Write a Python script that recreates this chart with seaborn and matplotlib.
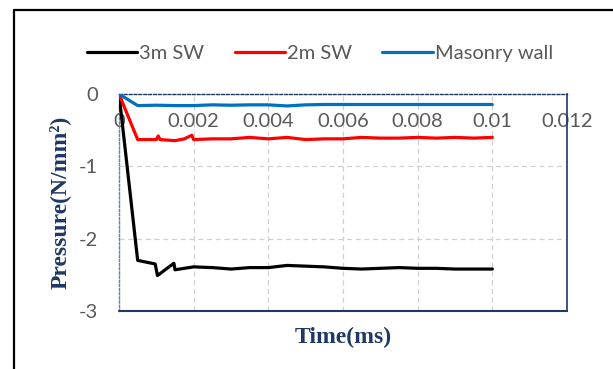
import numpy as np
import pandas as pd
import matplotlib
matplotlib.use("Agg")
import matplotlib.pyplot as plt
import matplotlib.transforms as mtransforms
from matplotlib.lines import Line2D
import seaborn as sns

# ---- data ----
t_3m = [0, 0.0005, 0.00097, 0.00103, 0.00147, 0.0015, 0.002, 0.0025, 0.003, 0.0035,
        0.004, 0.0045, 0.005, 0.0055, 0.006, 0.0065, 0.007, 0.0075, 0.008, 0.0085,
        0.009, 0.0095, 0.01]
p_3m = [0, -2.30, -2.35, -2.51, -2.34, -2.43, -2.39, -2.40, -2.42, -2.40,
        -2.40, -2.37, -2.38, -2.39, -2.41, -2.42, -2.41, -2.40, -2.41, -2.41,
        -2.42, -2.42, -2.42]

t_2m = [0, 0.0005, 0.001, 0.00105, 0.0011, 0.0015, 0.00175, 0.00195, 0.002, 0.0025,
        0.003, 0.0035, 0.004, 0.0045, 0.005, 0.0055, 0.006, 0.0065, 0.007, 0.0075,
        0.008, 0.0085, 0.009, 0.0095, 0.01]
p_2m = [0, -0.63, -0.63, -0.58, -0.63, -0.645, -0.62, -0.57, -0.63, -0.62,
        -0.62, -0.60, -0.62, -0.60, -0.63, -0.62, -0.62, -0.60, -0.61, -0.61,
        -0.60, -0.61, -0.60, -0.61, -0.60]

t_mw = [0, 0.0005, 0.001, 0.0015, 0.002, 0.0025, 0.003, 0.0035, 0.004, 0.0045,
        0.005, 0.0055, 0.006, 0.0065, 0.007, 0.0075, 0.008, 0.0085, 0.009, 0.0095, 0.01]
p_mw = [0, -0.16, -0.155, -0.16, -0.16, -0.15, -0.155, -0.15, -0.15, -0.165,
        -0.15, -0.145, -0.145, -0.145, -0.145, -0.145, -0.145, -0.145, -0.145, -0.145, -0.145]

series_names = ["3m SW", "2m SW", "Masonry wall"]
series_colors = ["#000000", "#FF0000", "#0070C0"]
x_ticks = [0, 0.002, 0.004, 0.006, 0.008, 0.01, 0.012]
x_tick_labels = ["0", "0.002", "0.004", "0.006", "0.008", "0.01", "0.012"]
y_ticks = [0, -1, -2, -3]
y_tick_labels = ["0", "-1", "-2", "-3"]

df = pd.concat([
    pd.DataFrame({"t": t_3m, "p": p_3m, "s": series_names[0]}),
    pd.DataFrame({"t": t_2m, "p": p_2m, "s": series_names[1]}),
    pd.DataFrame({"t": t_mw, "p": p_mw, "s": series_names[2]}),
], ignore_index=True)

sns.set_style("white")
plt.rcParams["font.family"] = ["Lato", "DejaVu Sans"]

fig = plt.figure(figsize=(6.13, 3.69), dpi=100)
ax = fig.add_axes([119/613, 1-311/369, (567-119)/613, (311-94)/369])

navy = "#1F3864"
grey_txt = "#595959"

for name, col in zip(series_names, series_colors):
    sub = df[df["s"] == name]
    sns.lineplot(data=sub, x="t", y="p", ax=ax, color=col, lw=2.3,
                 estimator=None, sort=False, label=name, legend=False, zorder=3)

ax.set_xlim(0, 0.012)
ax.set_ylim(-3, 0)
ax.set_xticks(x_ticks)
ax.set_xticklabels(x_tick_labels)
ax.set_yticks(y_ticks)
ax.set_yticklabels(y_tick_labels)

ax.grid(True, color="#D0D0D0", linestyle=(0, (4, 3)), lw=0.9)
ax.set_axisbelow(True)

# x axis crosses at y = 0
ax.spines["bottom"].set_position(("data", 0))
ax.spines["bottom"].set_linestyle((0, (2, 1.5)))
ax.spines["bottom"].set_color(navy)
ax.spines["bottom"].set_linewidth(1.0)
ax.spines["top"].set_visible(False)
ax.spines["left"].set_linestyle((0, (1.5, 1.5)))
ax.spines["left"].set_color("#6A7FA8")
ax.spines["left"].set_linewidth(1.0)
ax.spines["right"].set_color(navy)
ax.spines["right"].set_linewidth(1.2)
ax.axhline(-3, color=navy, lw=1.5, clip_on=False, zorder=4)

ax.tick_params(axis="x", length=0, pad=14, labelsize=14.5, labelcolor=grey_txt)
ax.tick_params(axis="y", length=0, pad=15, labelsize=14.5, labelcolor=grey_txt)

ax.set_xlabel("Time(ms)", family="Liberation Serif", fontweight="bold",
              fontsize=17, color=navy)
ax.set_ylabel("Pressure(N/mm²)", family="Liberation Serif", fontweight="bold",
              fontsize=17, color=navy)
ax.xaxis.set_label_coords(0.5, -0.072, transform=ax.transAxes)
ax.xaxis.label.set_va("top")
blend = mtransforms.blended_transform_factory(fig.transFigure, ax.transAxes)
ax.yaxis.set_label_coords(60/613, 0.5, transform=blend)
ax.yaxis.label.set_va("center")

handles = [Line2D([], [], color=c, lw=2.3) for c in series_colors]
fig.legend(handles, series_names, loc="center", ncol=3,
           bbox_to_anchor=(320/613, 1-53/369), frameon=False,
           fontsize=14.5, labelcolor=grey_txt, handlelength=2.5,
           handletextpad=0.1, columnspacing=1.5)

# partial outer frame (top and left edges)
fig.add_artist(Line2D([14/613, 1.0], [1-10/369, 1-10/369], transform=fig.transFigure,
                      color="black", lw=1.6))
fig.add_artist(Line2D([14/613, 14/613], [0.0, 1-10/369], transform=fig.transFigure,
                      color="black", lw=1.6))

fig.savefig("out.png", dpi=100)
